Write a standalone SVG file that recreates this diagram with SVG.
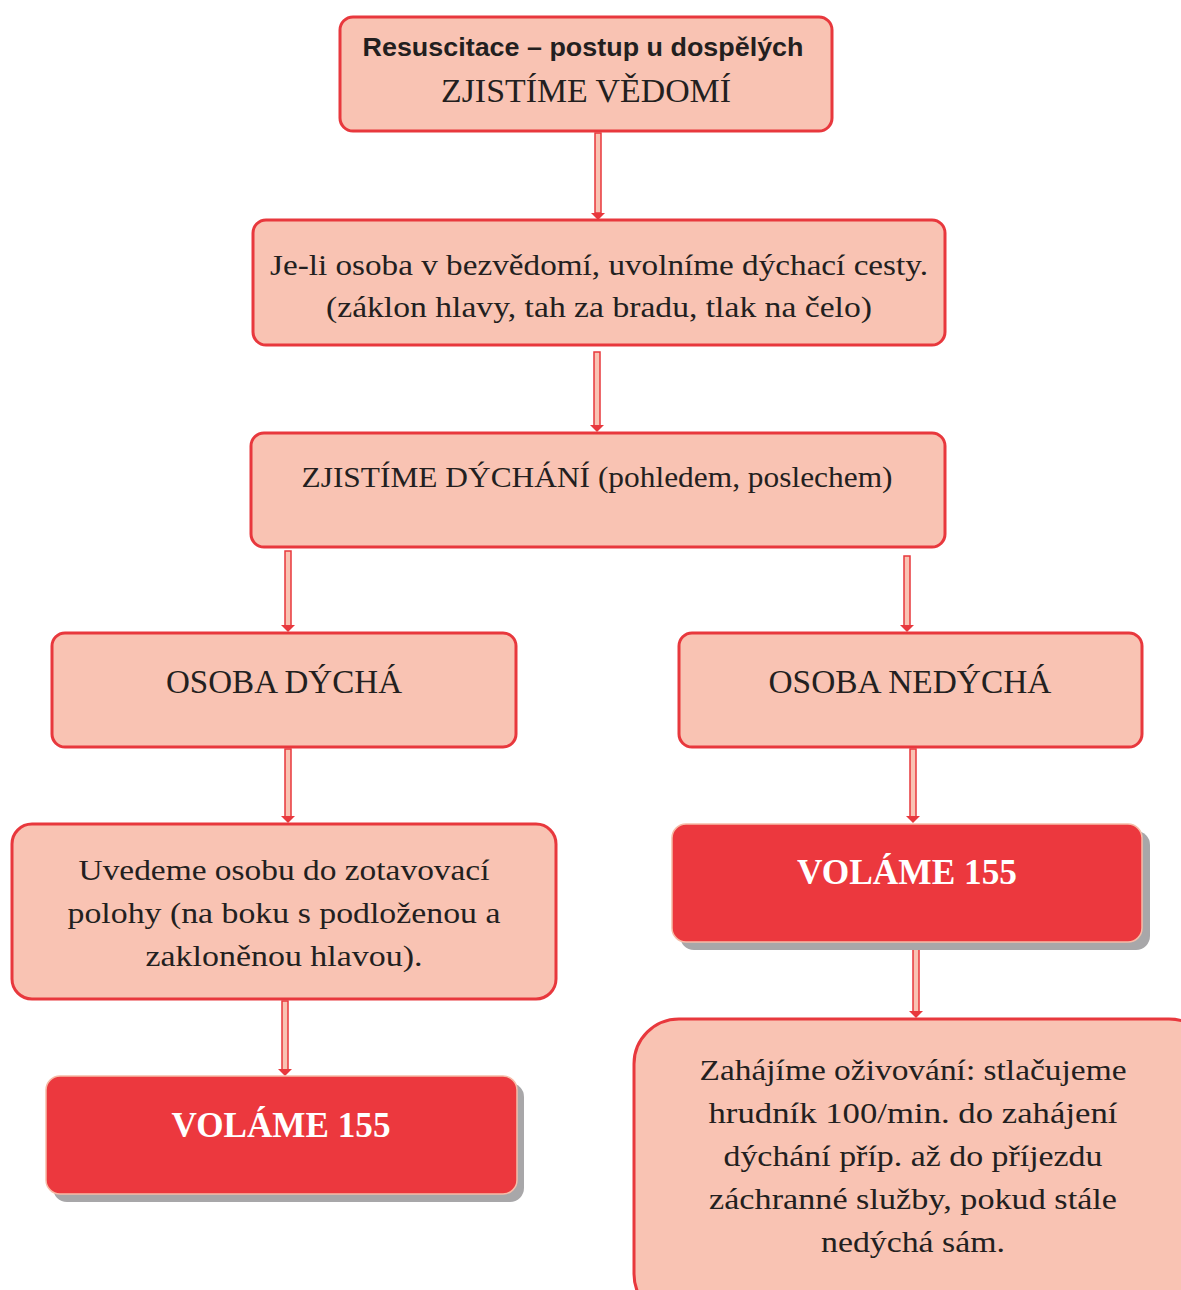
<svg xmlns="http://www.w3.org/2000/svg" width="1181" height="1290" viewBox="0 0 1181 1290">
<style>
.box{fill:#f9c3b3;stroke:#e8383d;stroke-width:3}
.red{fill:#ec383e;stroke:#f6bca8;stroke-width:1.5}
.shadow{fill:#a8a7a9}
.t{font-family:"Liberation Serif","DejaVu Serif",serif;font-size:29px;fill:#231f20;text-anchor:middle}
.big{font-size:33px}
.w{font-family:"Liberation Serif","DejaVu Serif",serif;font-size:35px;font-weight:bold;fill:#ffffff;text-anchor:middle}
.s{font-family:"Liberation Sans","Open Sans",sans-serif;font-size:26px;font-weight:bold;fill:#231f20;text-anchor:middle}
.shaft{fill:#f9c3b3;stroke:#e8383d;stroke-width:1.5}
.head{fill:#e8383d}
</style>
<rect width="1181" height="1290" fill="#ffffff"/>
<g id="connectors">
<g transform="translate(598,133)"><rect class="shaft" x="-3" y="0" width="6" height="80"/><path class="head" d="M-7,80 L7,80 L0,87 Z"/></g>
<g transform="translate(597,352)"><rect class="shaft" x="-3" y="0" width="6" height="74"/><path class="head" d="M-7,73 L7,73 L0,80 Z"/></g>
<g transform="translate(288,551)"><rect class="shaft" x="-3" y="0" width="6" height="75"/><path class="head" d="M-7,74 L7,74 L0,81 Z"/></g>
<g transform="translate(907,556)"><rect class="shaft" x="-3" y="0" width="6" height="70"/><path class="head" d="M-7,69 L7,69 L0,76 Z"/></g>
<g transform="translate(288,749)"><rect class="shaft" x="-3" y="0" width="6" height="68"/><path class="head" d="M-7,67 L7,67 L0,74 Z"/></g>
<g transform="translate(913,749)"><rect class="shaft" x="-3" y="0" width="6" height="68"/><path class="head" d="M-7,67 L7,67 L0,74 Z"/></g>
<g transform="translate(285,1001)"><rect class="shaft" x="-3" y="0" width="6" height="69"/><path class="head" d="M-7,68 L7,68 L0,75 Z"/></g>
<g transform="translate(916,944)"><rect class="shaft" x="-3" y="0" width="6" height="68"/><path class="head" d="M-7,67 L7,67 L0,74 Z"/></g>
</g>
<g id="n1">
<rect class="box" x="340" y="17" width="492" height="114" rx="13"/>
<text class="s" x="583" y="56" textLength="441" lengthAdjust="spacingAndGlyphs">Resuscitace – postup u dospělých</text>
<text class="t big" x="586" y="102" textLength="290" lengthAdjust="spacingAndGlyphs">ZJISTÍME VĚDOMÍ</text>
</g>
<g id="n2">
<rect class="box" x="253" y="220" width="692" height="125" rx="13"/>
<text class="t" x="599" y="275" textLength="658" lengthAdjust="spacingAndGlyphs">Je-li osoba v bezvědomí, uvolníme dýchací cesty.</text>
<text class="t" x="599" y="317" textLength="546" lengthAdjust="spacingAndGlyphs">(záklon hlavy, tah za bradu, tlak na čelo)</text>
</g>
<g id="n3">
<rect class="box" x="251" y="433" width="694" height="114" rx="13"/>
<text class="t" x="597" y="487" textLength="591" lengthAdjust="spacingAndGlyphs">ZJISTÍME DÝCHÁNÍ (pohledem, poslechem)</text>
</g>
<g id="n4">
<rect class="box" x="52" y="633" width="464" height="114" rx="13"/>
<text class="t big" x="284" y="693" textLength="236" lengthAdjust="spacingAndGlyphs">OSOBA DÝCHÁ</text>
</g>
<g id="n5">
<rect class="box" x="679" y="633" width="463" height="114" rx="13"/>
<text class="t big" x="910" y="693" textLength="283" lengthAdjust="spacingAndGlyphs">OSOBA NEDÝCHÁ</text>
</g>
<g id="n6">
<rect class="box" x="12" y="824" width="544" height="175" rx="20"/>
<text class="t" x="284" y="880" textLength="411" lengthAdjust="spacingAndGlyphs">Uvedeme osobu do zotavovací</text>
<text class="t" x="284" y="923" textLength="433" lengthAdjust="spacingAndGlyphs">polohy (na boku s podloženou a</text>
<text class="t" x="284" y="966" textLength="277" lengthAdjust="spacingAndGlyphs">zakloněnou hlavou).</text>
</g>
<g id="n7">
<rect class="shadow" x="680" y="831" width="470" height="119" rx="14"/>
<rect class="red" x="672" y="824" width="470" height="118" rx="14"/>
<text class="w" x="907" y="884" textLength="220" lengthAdjust="spacingAndGlyphs">VOLÁME 155</text>
</g>
<g id="n8">
<rect class="shadow" x="53" y="1083" width="471" height="119" rx="14"/>
<rect class="red" x="46" y="1076" width="471" height="118" rx="14"/>
<text class="w" x="281" y="1137" textLength="219" lengthAdjust="spacingAndGlyphs">VOLÁME 155</text>
</g>
<g id="n9">
<rect class="box" x="634" y="1019" width="580" height="300" rx="45"/>
<text class="t" x="913" y="1080" textLength="427" lengthAdjust="spacingAndGlyphs">Zahájíme oživování: stlačujeme</text>
<text class="t" x="913" y="1123" textLength="409" lengthAdjust="spacingAndGlyphs">hrudník 100/min. do zahájení</text>
<text class="t" x="913" y="1166" textLength="379" lengthAdjust="spacingAndGlyphs">dýchání příp. až do příjezdu</text>
<text class="t" x="913" y="1209" textLength="408" lengthAdjust="spacingAndGlyphs">záchranné služby, pokud stále</text>
<text class="t" x="913" y="1252" textLength="184" lengthAdjust="spacingAndGlyphs">nedýchá sám.</text>
</g>
</svg>
